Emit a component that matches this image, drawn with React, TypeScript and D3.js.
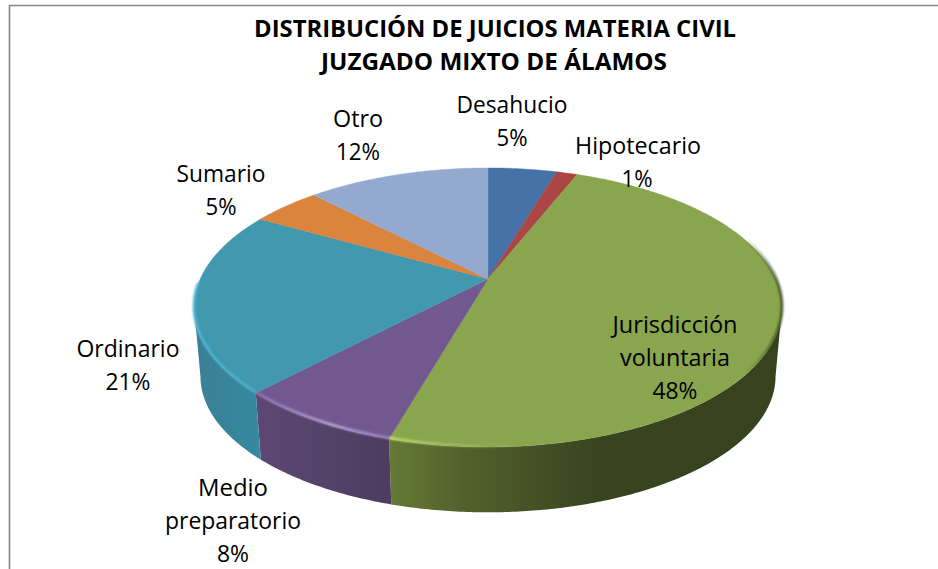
import React from "react";
import * as d3 from "d3";

const titleLines = ["DISTRIBUCIÓN DE JUICIOS MATERIA CIVIL", "JUZGADO MIXTO DE ÁLAMOS"];
const categories = ["Desahucio", "Hipotecario", "Jurisdicción voluntaria", "Medio preparatorio", "Ordinario", "Sumario", "Otro"];
const shares = [4.6, 1.4, 48.4, 7.6, 21.1, 4.6, 12.2];
const colors = ["#4572A7", "#AA4643", "#89A54E", "#71588F", "#4198AF", "#DB843D", "#93A9CF"];

// line -> [centre x, baseline y, width]
const labelLines: [number, [number, number, number][]][] = [
  [0, [[512, 112.5, 111], [512, 145.5, 31]]],
  [1, [[638, 154, 126], [637, 187, 31]]],
  [2, [[675, 333, 125], [675, 365.5, 110], [675, 398.5, 45]]],
  [3, [[233, 495.5, 70], [233, 528.5, 136], [233, 562, 32]]],
  [4, [[128, 357, 103], [128, 389.5, 45]]],
  [5, [[221, 181.5, 89], [221, 214.5, 31]]],
  [6, [[358, 126.5, 50], [358, 159.5, 44]]],
];
const splitNames = [["Desahucio"], ["Hipotecario"], ["Jurisdicción", "voluntaria"], ["Medio", "preparatorio"], ["Ordinario"], ["Sumario"], ["Otro"]];

const FONT = "'Open Sans', 'Noto Sans', sans-serif";
const total = d3.sum(shares);
const arcs = d3.pie<number>().sort(null).startAngle(0).endAngle(2 * Math.PI)(shares);

const K = -0.204;
const CX = 488;
type Plane = { a: number; b: number; cy: number };
const TOP: Plane = { a: 287.8, b: 133.7, cy: 279 };
const BASE: Plane = { a: 281.5, b: 130.4, cy: 348.5 };

const project = (p: Plane, t: number): [number, number] => {
  const u = Math.sin(t);
  const v = -Math.cos(t);
  const w = 1 + K * v;
  return [CX + (p.a * u) / w, p.cy + (p.b * v) / w];
};
const samples = (a: number, b: number) => {
  const n = Math.max(2, Math.ceil(Math.abs(b - a) / 0.01));
  return d3.range(n + 1).map((i) => a + ((b - a) * i) / n);
};
const line = d3.line<[number, number]>();
const edge = (p: Plane, a: number, b: number) => samples(a, b).map((t) => project(p, t));

const R_T = Math.PI / 2 + Math.asin(0.204);
const L_T = (3 * Math.PI) / 2 - Math.asin(0.204);

const topPath = (a: number, b: number) => line([[CX, TOP.cy], ...edge(TOP, a, b)])! + "Z";
const sidePath = (a: number, b: number) =>
  line([...edge(TOP, a, b), ...edge(BASE, b, a)])! + "Z";

const sideStops: Record<number, [number, string][]> = {
  2: [[389, "#657a35"], [470, "#515f2b"], [600, "#39431f"], [780, "#38421f"]],
  3: [[258, "#5c4873"], [389, "#4d3c60"]],
  4: [[197, "#3a8096"], [258, "#36899f"]],
};
const rimStops: Record<number, [number, string, number][]> = {
  2: [[389, "#c3df74", 1], [470, "#a3bf5e", 0.6], [540, "#89a54e", 0], [745, "#39431f", 0], [778, "#39431f", 0.9]],
  3: [[258, "#8d73ae", 1], [330, "#bba6de", 1], [389, "#9b84bf", 1]],
  4: [[197, "#4fb7d6", 1], [258, "#4aaecb", 1]],
};
const rimRange: Record<number, [number, number]> = {
  2: [(70 * Math.PI) / 180, arcs[2].endAngle],
  3: [arcs[3].startAngle, arcs[3].endAngle],
  4: [arcs[4].startAngle, (268 * Math.PI) / 180],
};

export default function App() {
  return (
    <svg width={938} height={569} style={{ position: "absolute", left: 0, top: 0, background: "#fff" }} fontFamily={FONT}>
      <defs>
        <filter id="soft" x="-5%" y="-5%" width="110%" height="110%">
          <feGaussianBlur stdDeviation={0.9} />
        </filter>
        {[2, 3, 4].map((i) => (
          <linearGradient key={`s${i}`} id={`side${i}`} gradientUnits="userSpaceOnUse" x1={sideStops[i][0][0]} x2={sideStops[i][sideStops[i].length - 1][0]} y1={0} y2={0}>
            {sideStops[i].map(([x, c], j) => (
              <stop key={j} offset={(x - sideStops[i][0][0]) / (sideStops[i][sideStops[i].length - 1][0] - sideStops[i][0][0])} stopColor={c} />
            ))}
          </linearGradient>
        ))}
        {[2, 3, 4].map((i) => (
          <linearGradient key={`r${i}`} id={`rim${i}`} gradientUnits="userSpaceOnUse" x1={rimStops[i][0][0]} x2={rimStops[i][rimStops[i].length - 1][0]} y1={0} y2={0}>
            {rimStops[i].map(([x, c, o], j) => (
              <stop key={j} offset={(x - rimStops[i][0][0]) / (rimStops[i][rimStops[i].length - 1][0] - rimStops[i][0][0])} stopColor={c} stopOpacity={o} />
            ))}
          </linearGradient>
        ))}
      </defs>

      <path d="M9.5 569V5.5H938" fill="none" stroke="#868686" strokeWidth={1.6} />

      {[2, 3, 4].map((i) => {
        const a = Math.max(arcs[i].startAngle, R_T);
        const b = Math.min(arcs[i].endAngle, L_T);
        return <path key={i} d={sidePath(a, b)} fill={`url(#side${i})`} />;
      })}

      {arcs.map((d, i) => (
        <path key={i} d={topPath(d.startAngle, d.endAngle)} fill={colors[i]} stroke={colors[i]} strokeWidth={0.4} />
      ))}

      {[2, 3, 4].map((i) => (
        <path key={i} d={line(edge(TOP, rimRange[i][0], rimRange[i][1]).map(([x, y]) => [x, y - 1]))!} fill="none" stroke={`url(#rim${i})`} strokeWidth={2.6} filter="url(#soft)" />
      ))}

      <g fontSize={23} fontWeight={700} textAnchor="middle" fill="#000">
        <text x={495} y={37} textLength={482} lengthAdjust="spacingAndGlyphs">{titleLines[0]}</text>
        <text x={494} y={70} textLength={346} lengthAdjust="spacingAndGlyphs">{titleLines[1]}</text>
      </g>

      <g fontSize={23} textAnchor="middle" fill="#000">
        {labelLines.map(([i, rows]) => {
          const texts = [...splitNames[i], `${d3.format(".0f")((shares[i] / total) * 100)}%`];
          return rows.map(([x, y, w], j) => (
            <text key={`${i}-${j}`} x={x} y={y} textLength={w} lengthAdjust="spacingAndGlyphs">{texts[j]}</text>
          ));
        })}
      </g>
      <title>{categories.join(", ")}</title>
    </svg>
  );
}
